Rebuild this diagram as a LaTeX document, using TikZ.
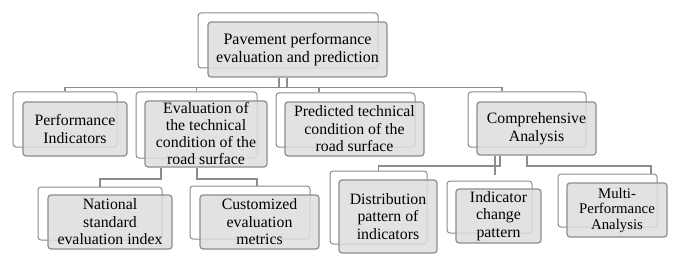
\documentclass[tikz,border=0pt]{standalone}
\usepackage{fontspec}
\setmainfont{Liberation Serif}
\definecolor{linegray}{RGB}{140,140,140}
\definecolor{boxgray}{RGB}{222,222,222}
\tikzset{
  backbox/.style={draw=linegray, fill=white, rounded corners=3pt, line width=1pt, inner sep=0pt},
  frontbox/.style={draw=linegray, fill=boxgray, fill opacity=0.85, text opacity=1, rounded corners=3pt,
    line width=1.2pt, inner sep=0pt, align=center, font=\fontsize{15.8pt}{17.5pt}\selectfont},
  conn/.style={draw=linegray, line width=1.2pt},
}
\begin{document}
\begin{tikzpicture}[x=1pt,y=-1pt]
\useasboundingbox (0,0) rectangle (684,267);
% back frames
\node[backbox, minimum width=180pt, minimum height=55pt] (TOb) at (288,40.5) {};
\node[backbox, minimum width=104pt, minimum height=55pt] (PIb) at (65,119.5) {};
\node[backbox, minimum width=121pt, minimum height=66pt] (EVb) at (196.5,125) {};
\node[backbox, minimum width=139pt, minimum height=54pt] (PRb) at (345.5,120) {};
\node[backbox, minimum width=118pt, minimum height=55pt] (CAb) at (527,119.5) {};
\node[backbox, minimum width=124pt, minimum height=53pt] (NAb) at (100,213.5) {};
\node[backbox, minimum width=120pt, minimum height=53pt] (CUb) at (250,212.5) {};
\node[backbox, minimum width=97pt, minimum height=73pt] (DIb) at (378.5,207.5) {};
\node[backbox, minimum width=85pt, minimum height=52pt] (INb) at (489.5,207) {};
\node[backbox, minimum width=99pt, minimum height=53pt] (MUb) at (607.5,200.5) {};
% front boxes
\node[frontbox, minimum width=179pt, minimum height=55pt, font=\fontsize{16pt}{18.5pt}\selectfont] (TOf) at (297.5,49.5) {Pavement performance\\evaluation and prediction};
\node[frontbox, minimum width=104pt, minimum height=54pt] (PIf) at (75,129) {Performance\\Indicators};
\node[frontbox, minimum width=122pt, minimum height=66pt, font=\fontsize{15.8pt}{17pt}\selectfont] (EVf) at (206,134) {Evaluation of\\the technical\\condition of the\\road surface};
\node[frontbox, minimum width=139pt, minimum height=54pt] (PRf) at (354.5,129) {Predicted technical\\condition of the\\road surface};
\node[frontbox, minimum width=119pt, minimum height=53pt] (CAf) at (536.5,128.5) {Comprehensive\\Analysis};
\node[frontbox, minimum width=124pt, minimum height=54pt] (NAf) at (110,222) {National\\standard\\evaluation index};
\node[frontbox, minimum width=119pt, minimum height=54pt] (CUf) at (259.5,222) {Customized\\evaluation\\metrics};
\node[frontbox, minimum width=98pt, minimum height=73pt] (DIf) at (388,216.5) {Distribution\\pattern of\\indicators};
\node[frontbox, minimum width=85pt, minimum height=54pt] (INf) at (498.5,216) {Indicator\\change\\pattern};
\node[frontbox, minimum width=100pt, minimum height=54pt, font=\fontsize{14.8pt}{15.5pt}\selectfont] (MUf) at (617,210) {Multi-\\Performance\\Analysis};
% buses
\coordinate (b0) at (0,87.5);
\coordinate (b1) at (0,179);
\coordinate (b2) at (0,166);
% level 1 -> level 2
\draw[conn] (279,0 |- TOf.south) -- (279,0 |- b0);
\draw[conn] (287,0 |- TOf.south) -- (287,0 |- b0);
\draw[conn] (PIb.north) -- (PIb.north |- b0) -- (502,0 |- b0) -- (502,0 |- CAb.north);
\draw[conn] (EVb.north) -- (EVb.north |- b0);
\draw[conn] (319,0 |- PRb.north) -- (319,0 |- b0);
% evaluation -> children
\draw[conn] (161,0 |- EVf.south) -- (161,0 |- b1) -- (NAb.north |- b1) -- (NAb.north);
\draw[conn] (197,0 |- EVf.south) -- (197,0 |- b1) -- (257,0 |- b1) -- (257,0 |- CUb.north);
% comprehensive -> children
\draw[conn] (500,0 |- CAf.south) -- (500,0 |- b2) -- (DIb.north |- b2) -- (DIb.north);
\draw[conn] (495,0 |- CAf.south) -- (495,175);
\draw[conn] (527,0 |- CAf.south) -- (527,0 |- b2) -- (651,0 |- b2) -- (651,0 |- MUb.north);
\end{tikzpicture}
\end{document}
